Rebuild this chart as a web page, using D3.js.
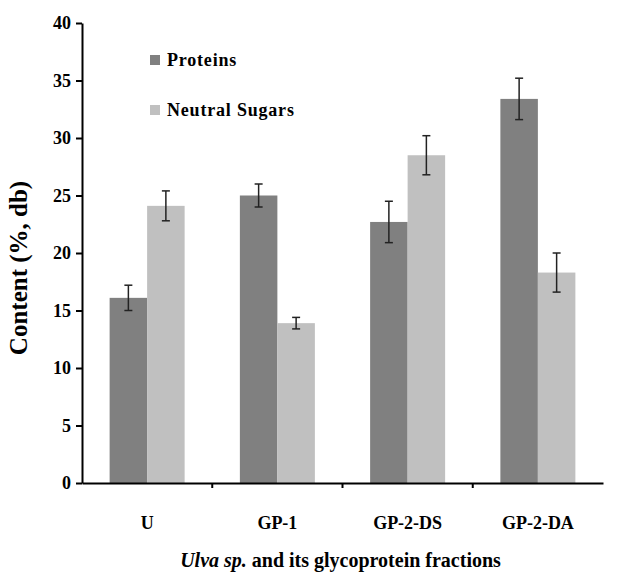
<!DOCTYPE html>
<html>
<head>
<meta charset="utf-8">
<script src="https://cdn.jsdelivr.net/npm/d3@7"></script>
<style>
  body { margin: 0; background: #fff; }
  svg text { font-family: "Liberation Serif", "Times New Roman", serif; font-weight: bold; }
  .axis path, .axis line { stroke: #000; stroke-width: 2; }
  .axis text { font-size: 18px; fill: #000; }
</style>
</head>
<body>
<svg width="642" height="577"></svg>
<script>
"use strict";

const categories = ["U", "GP-1", "GP-2-DS", "GP-2-DA"];
const seriesNames = ["Proteins", "Neutral Sugars"];
const proteins = [16.1, 25.0, 22.7, 33.4];
const proteinsErr = [1.1, 1.0, 1.8, 1.8];
const sugars = [24.1, 13.9, 28.5, 18.3];
const sugarsErr = [1.3, 0.5, 1.7, 1.7];
const yTicks = [0, 5, 10, 15, 20, 25, 30, 35, 40];
const colors = ["#808080", "#c0c0c0"];

const svg = d3.select("svg");
const margin = { top: 23, right: 39, bottom: 94, left: 82 };
const width = +svg.attr("width");
const height = +svg.attr("height");
const innerWidth = width - margin.left - margin.right;
const innerHeight = height - margin.top - margin.bottom;

const rows = categories.map((c, i) => ({
  cat: c,
  vals: [
    { key: 0, v: proteins[i], e: proteinsErr[i] },
    { key: 1, v: sugars[i], e: sugarsErr[i] }
  ]
}));

const xScale = d3.scaleBand().domain(categories).range([0, innerWidth]).paddingInner(0).paddingOuter(0);
const groupWidth = 75;
const xSub = d3.scaleBand().domain([0, 1]).range([0, groupWidth]);
const yScale = d3.scaleLinear().domain([0, 40]).range([innerHeight, 0]);

const g = svg.append("g").attr("transform", `translate(${margin.left},${margin.top})`);

const groups = g.selectAll(".grp")
  .data(rows)
  .enter()
  .append("g")
  .attr("class", "grp")
  .attr("transform", d => `translate(${xScale(d.cat) + (xScale.bandwidth() - groupWidth) / 2},0)`);

groups.selectAll("rect")
  .data(d => d.vals)
  .enter()
  .append("rect")
  .attr("x", d => xSub(d.key))
  .attr("y", d => yScale(d.v))
  .attr("width", xSub.bandwidth())
  .attr("height", d => innerHeight - yScale(d.v))
  .attr("fill", d => colors[d.key]);

// error bars
const err = groups.selectAll(".err")
  .data(d => d.vals)
  .enter()
  .append("g")
  .attr("class", "err")
  .attr("stroke", "#222")
  .attr("stroke-width", 1.5);

const cx = d => xSub(d.key) + xSub.bandwidth() / 2;
err.append("line")
  .attr("x1", cx).attr("x2", cx)
  .attr("y1", d => yScale(d.v + d.e))
  .attr("y2", d => yScale(d.v - d.e));
err.append("line")
  .attr("x1", d => cx(d) - 4).attr("x2", d => cx(d) + 4)
  .attr("y1", d => yScale(d.v + d.e)).attr("y2", d => yScale(d.v + d.e));
err.append("line")
  .attr("x1", d => cx(d) - 4).attr("x2", d => cx(d) + 4)
  .attr("y1", d => yScale(d.v - d.e)).attr("y2", d => yScale(d.v - d.e));

// axes
const yAxis = d3.axisLeft(yScale).tickValues(yTicks).tickSize(6).tickPadding(5).tickSizeOuter(0);
g.append("g").attr("class", "axis").call(yAxis);

const xAxis = d3.axisBottom(xScale).tickSize(0).tickPadding(33).tickSizeOuter(0);
const xAxisG = g.append("g")
  .attr("class", "axis")
  .attr("transform", `translate(0,${innerHeight})`)
  .call(xAxis);
xAxisG.selectAll(".tick text").attr("font-size", 19);

// boundary ticks between categories
xAxisG.selectAll(".bound")
  .data(categories.slice(1))
  .enter()
  .append("line")
  .attr("class", "bound")
  .attr("x1", d => xScale(d)).attr("x2", d => xScale(d))
  .attr("y1", 0).attr("y2", 5);

// y axis label
g.append("text")
  .attr("transform", "rotate(-90)")
  .attr("x", -innerHeight / 2 - 15)
  .attr("y", -55)
  .attr("text-anchor", "middle")
  .attr("font-size", 25)
  .text("Content (%, db)");

// x axis label
const xLabel = g.append("text")
  .attr("x", innerWidth / 2 - 2)
  .attr("y", innerHeight + 84)
  .attr("text-anchor", "middle")
  .attr("font-size", 20);
xLabel.append("tspan").attr("font-style", "italic").text("Ulva sp.");
xLabel.append("tspan").text(" and its glycoprotein fractions");

// legend
const legend = g.append("g").attr("transform", "translate(68,37)");
const li = legend.selectAll("g")
  .data(seriesNames)
  .enter()
  .append("g")
  .attr("transform", (d, i) => `translate(0,${i * 50})`);
li.append("rect")
  .attr("x", 0).attr("y", -5)
  .attr("width", 10).attr("height", 10)
  .attr("fill", (d, i) => colors[i]);
li.append("text")
  .attr("x", 17).attr("y", 6)
  .attr("font-size", 18)
  .attr("letter-spacing", 0.8)
  .text(d => d);
</script>
</body>
</html>
